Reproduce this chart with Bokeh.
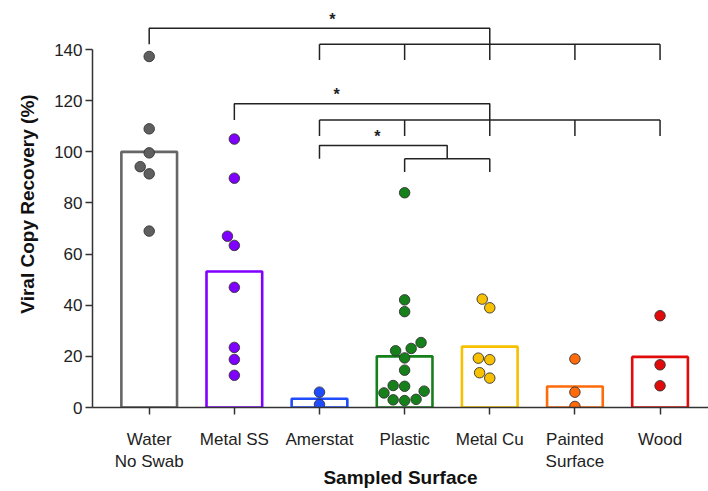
import numpy as np
from bokeh.plotting import figure
from bokeh.models import Range1d, FixedTicker, Title
from bokeh.embed import file_html
from bokeh.resources import INLINE
from bokeh.core.properties import value

# ---------------- data ----------------
categories = ["Water\nNo Swab", "Metal SS", "Amerstat", "Plastic", "Metal Cu", "Painted\nSurface", "Wood"]
bar_means = [100.0, 53.2, 3.4, 20.0, 23.8, 8.2, 19.8]
water = [137.3, 109.0, 99.6, 94.2, 91.4, 69.0]
metal_ss = [105.0, 89.7, 67.0, 63.4, 47.0, 23.5, 18.8, 12.6]
amerstat = [6.0, 1.2]
plastic = [84.0, 42.1, 37.5, 25.4, 23.1, 22.2, 19.4, 14.6, 8.6, 8.3, 6.4, 5.7, 3.2, 3.0, 2.7]
metal_cu = [42.4, 39.0, 19.3, 18.7, 13.6, 11.5]
painted = [19.0, 6.0, 0.4]
wood = [35.9, 16.7, 8.5]
series = [water, metal_ss, amerstat, plastic, metal_cu, painted, wood]
y_ticks = [0, 20, 40, 60, 80, 100, 120, 140]

# significance brackets: reference group vs. target groups
bracket_ref = ["Water\nNo Swab", "Metal SS", "Amerstat"]
bracket_targets = [["Amerstat", "Plastic", "Metal Cu", "Painted\nSurface", "Wood"],
                   ["Amerstat", "Plastic", "Metal Cu", "Painted\nSurface", "Wood"],
                   ["Plastic", "Metal Cu"]]
bracket_top = [148.3, 118.8, 102.5]
bracket_drop = [6.2, 6.3, 5.2]
star_pos = [2.15, 2.2, 2.68]
star_text = ["*", "*", "*"]

# ---------------- styles ----------------
colors = ["#5f5f5f", "#7f00ff", "#1f4cff", "#16801a", "#f7c000", "#ff6a0a", "#e00b0b"]
bar_lines = ["#666666", "#7f00ff", "#1f4cff", "#16801a", "#f7c000", "#ff6a0a", "#e00b0b"]
FONT = "Liberation Sans"

X0, X1 = -0.666, 6.569
Y0, Y1 = 0.0, 159.2
FW, FH = 616, 407
PX_X = FW / (X1 - X0)
PX_Y = FH / (Y1 - Y0)
D = 11.5  # swarm spacing in px


def swarm(vals):
    order = np.argsort(vals)
    placed = []
    offs = [0.0] * len(vals)
    for i in order:
        y = vals[i] * PX_Y
        intervals = []
        for xp, yp in placed:
            dy = abs(y - yp)
            if dy < D:
                hw = np.sqrt(D * D - dy * dy)
                intervals.append((xp - hw, xp + hw))
        cands = [0.0] + [a for a, b in intervals] + [b for a, b in intervals]
        valid = [c for c in cands if all(not (a + 1e-6 < c < b - 1e-6) for a, b in intervals)]
        best = min(valid, key=lambda c: (abs(c), c))
        placed.append((best, y))
        offs[i] = best / PX_X
    return offs


p = figure(width=708, height=491, x_range=Range1d(X0, X1), y_range=Range1d(Y0, Y1),
           output_backend="svg", toolbar_location=None,
           min_border_left=92, min_border_right=0, min_border_top=0, min_border_bottom=84)
p.outline_line_color = None
p.grid.visible = False
p.background_fill_color = "white"

idx = list(range(len(categories)))

# bars
p.vbar(x=idx, top=bar_means, width=0.654, fill_color="white", line_color=bar_lines, line_width=2.6)

# points
for i, vals in enumerate(series):
    offs = swarm(vals)
    xs = [i + o for o in offs]
    p.scatter(xs, vals, size=10.5, fill_color=colors[i], line_color="#333333", line_width=0.9)

# brackets
xs_all, ys_all = [], []
for ref, targets, top, drop in zip(bracket_ref, bracket_targets, bracket_top, bracket_drop):
    ri = categories.index(ref)
    ti = [categories.index(t) for t in targets]
    lo, hi = min(ti), max(ti)
    mid = (lo + hi) / 2.0
    low = top - drop
    bottom = low - drop
    xs_all.append([ri, ri, mid, mid]); ys_all.append([low, top, top, low])
    xs_all.append([lo, hi]); ys_all.append([low, low])
    for t in ti:
        xs_all.append([t, t]); ys_all.append([low, bottom])
p.multi_line(xs_all, ys_all, line_color="#222222", line_width=1.5)

star_y = [t + 3.6 for t in bracket_top]
p.text(x=star_pos, y=star_y, text=star_text, text_font=value(FONT), text_font_size="16px",
       text_font_style="bold", text_align="center", text_baseline="middle", text_color="#222222")

# axes
yax = p.yaxis[0]
yax.bounds = (0, 140)
yax.ticker = FixedTicker(ticks=y_ticks)
yax.minor_tick_line_color = None
yax.major_tick_out = 7
yax.major_tick_in = 0
yax.axis_line_width = 1.5
yax.major_tick_line_width = 1.5
yax.axis_line_color = "#333333"
yax.major_tick_line_color = "#333333"
yax.major_label_text_font = FONT
yax.major_label_text_font_size = "17px"
yax.major_label_text_color = "#222222"
yax.major_label_standoff = 3

xax = p.xaxis[0]
xax.ticker = FixedTicker(ticks=idx)
xax.major_label_overrides = {i: c for i, c in enumerate(categories)}
xax.minor_tick_line_color = None
xax.major_tick_out = 7
xax.major_tick_in = 0
xax.axis_line_width = 1.5
xax.major_tick_line_width = 1.5
xax.axis_line_color = "#333333"
xax.major_tick_line_color = "#333333"
xax.major_label_text_font = FONT
xax.major_label_text_font_size = "17px"
xax.major_label_text_color = "#222222"
xax.major_label_standoff = 15
xax.axis_label = "Sampled Surface"
xax.axis_label_text_font = FONT
xax.axis_label_text_font_size = "19px"
xax.axis_label_text_font_style = "bold"
xax.axis_label_text_color = "#111111"
xax.axis_label_standoff = -7

ytitle = Title(text="Viral Copy Recovery (%)", align="center", offset=-22,
               text_font=FONT, text_font_size="19px", text_font_style="bold",
               text_color="#111111", standoff=28)
p.add_layout(ytitle, "left")

open("out.html", "w").write(file_html(p, INLINE))
